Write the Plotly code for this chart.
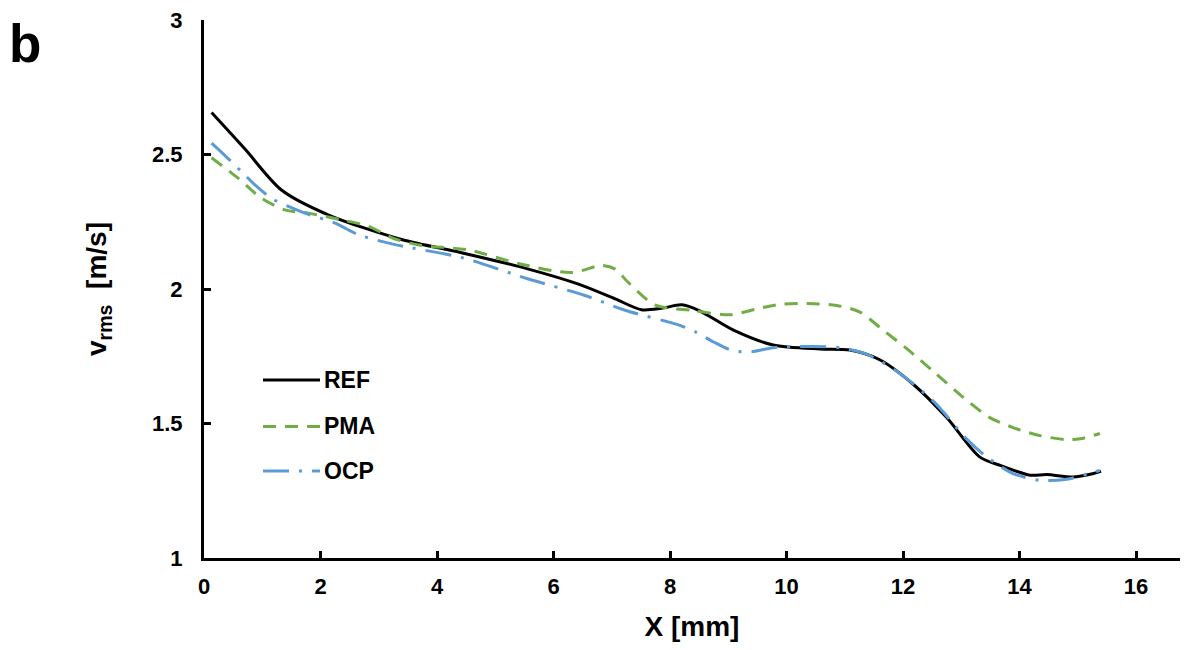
import plotly.graph_objects as go

# REF
ref_x = [0.13, 0.70, 1.33, 2.13, 3.39, 4.42, 5.57, 6.43, 7.06, 7.51, 7.85, 8.2, 8.5, 9.09, 9.77, 10.58, 11.09, 11.6, 12.18, 12.75, 13.32, 13.67, 14.18, 14.47, 14.92, 15.27, 15.4]
ref_y = [2.656, 2.521, 2.368, 2.276, 2.184, 2.135, 2.074, 2.018, 1.963, 1.923, 1.928, 1.941, 1.92, 1.847, 1.792, 1.777, 1.773, 1.737, 1.645, 1.522, 1.375, 1.344, 1.308, 1.310, 1.301, 1.314, 1.322]

# PMA
pma_x = [0.13, 0.59, 0.99, 1.39, 1.79, 2.36, 2.82, 3.28, 3.74, 4.54, 5.45, 6.31, 6.83, 7.06, 7.28, 7.74, 8.4, 9.03, 9.49, 9.89, 10.35, 10.86, 11.26, 11.66, 12.06, 12.52, 13.04, 13.49, 13.89, 14.35, 14.81, 15.04, 15.38]
pma_y = [2.488, 2.411, 2.337, 2.294, 2.282, 2.257, 2.233, 2.186, 2.162, 2.145, 2.092, 2.061, 2.088, 2.074, 2.025, 1.941, 1.920, 1.904, 1.926, 1.943, 1.946, 1.939, 1.914, 1.847, 1.779, 1.694, 1.596, 1.522, 1.485, 1.455, 1.440, 1.443, 1.463]

# OCP
ocp_x = [0.13, 0.36, 0.65, 0.85, 1.16, 1.45, 1.73, 2.25, 2.65, 3.28, 4.42, 5.57, 6.54, 7.23, 8.17, 8.46, 8.74, 9.09, 9.40, 9.77, 10.40, 10.92, 11.38, 11.89, 12.52, 13.09, 13.44, 13.89, 14.35, 14.81, 15.38]
ocp_y = [2.542, 2.496, 2.435, 2.392, 2.337, 2.307, 2.282, 2.245, 2.202, 2.165, 2.117, 2.037, 1.976, 1.921, 1.865, 1.838, 1.804, 1.770, 1.767, 1.782, 1.786, 1.782, 1.757, 1.694, 1.583, 1.443, 1.375, 1.314, 1.289, 1.293, 1.326]

series_names = ["REF", "PMA", "OCP"]
series_colors = ["#000000", "#70AD47", "#5B9BD5"]
series_dash = ["solid", "13px,9px", "26px,10px,3px,10px"]

x_ticks = [0, 2, 4, 6, 8, 10, 12, 14, 16]
y_ticks = [1, 1.5, 2, 2.5, 3]

FONT = "Liberation Sans, Arial, sans-serif"

W, H = 1172, 634
ML, MR, MT, MB = 196, 0, 6, 84
PW, PH = W - ML - MR, H - MT - MB

fig = go.Figure()
for name, xs, ys, col, dsh in zip(series_names, [ref_x, pma_x, ocp_x], [ref_y, pma_y, ocp_y],
                                   series_colors, series_dash):
    fig.add_trace(go.Scatter(x=xs, y=ys, mode="lines", name=name, showlegend=False,
                             line=dict(color=col, width=3, dash=dsh, shape="spline", smoothing=0.8)))

# legend (keys as shapes, labels as annotations), positioned in pixels of the plot area
def px_to_paper_x(px):
    return (px - ML) / PW

def px_to_paper_y(py):
    return (H - MB - py) / PH

shapes = []
annotations = []
leg_x0, leg_x1, leg_tx = 255, 312, 314
leg_ys = [370, 417, 462]
for name, col, dsh, ly in zip(series_names, series_colors, series_dash, leg_ys):
    shapes.append(dict(type="line", xref="paper", yref="paper",
                       x0=px_to_paper_x(leg_x0), x1=px_to_paper_x(leg_x1),
                       y0=px_to_paper_y(ly), y1=px_to_paper_y(ly),
                       line=dict(color=col, width=3, dash=dsh)))
    annotations.append(dict(text=f"<b>{name}</b>", xref="paper", yref="paper",
                            x=px_to_paper_x(leg_tx), y=px_to_paper_y(ly),
                            xanchor="left", yanchor="middle", showarrow=False,
                            font=dict(family=FONT, size=23, color="#000000")))

annotations.append(dict(text="<b>b</b>", x=px_to_paper_x(0), y=px_to_paper_y(0), xref="paper", yref="paper",
                        xanchor="left", yanchor="top", showarrow=False, borderpad=0,
                        height=56, valign="middle",
                        font=dict(family=FONT, size=53, color="#000000")))

fig.update_layout(
    width=W, height=H,
    margin=dict(l=ML, r=MR, t=MT, b=MB),
    plot_bgcolor="white", paper_bgcolor="white",
    font=dict(family=FONT, color="#000000", size=22),
    showlegend=False,
    shapes=shapes,
    annotations=annotations,
)
fig.update_xaxes(range=[0, PW / 58.25], tickvals=x_ticks, ticktext=[f"<b>{v}</b>" for v in x_ticks],
                 showline=True, linecolor="#000000", linewidth=3, ticks="inside", ticklen=7,
                 tickwidth=3, tickcolor="#000000", showgrid=False, zeroline=False,
                 tickfont=dict(size=22), ticklabelstandoff=7, ticklabeloverflow="allow",
                 title=dict(text="<b>X [mm]</b>", font=dict(size=28), standoff=21))
fig.update_yaxes(range=[1, 3], tickvals=y_ticks, ticktext=[f"<b>{v:g}</b>" for v in y_ticks],
                 showline=True, linecolor="#000000", linewidth=3, ticks="inside", ticklen=7,
                 tickwidth=3, tickcolor="#000000", showgrid=False, zeroline=False,
                 tickfont=dict(size=22), ticklabelstandoff=14, ticklabeloverflow="allow",
                 title=dict(text="<b>v<sub>rms</sub>  [m/s]</b>", font=dict(size=28), standoff=38))

fig.write_html("out.html")
